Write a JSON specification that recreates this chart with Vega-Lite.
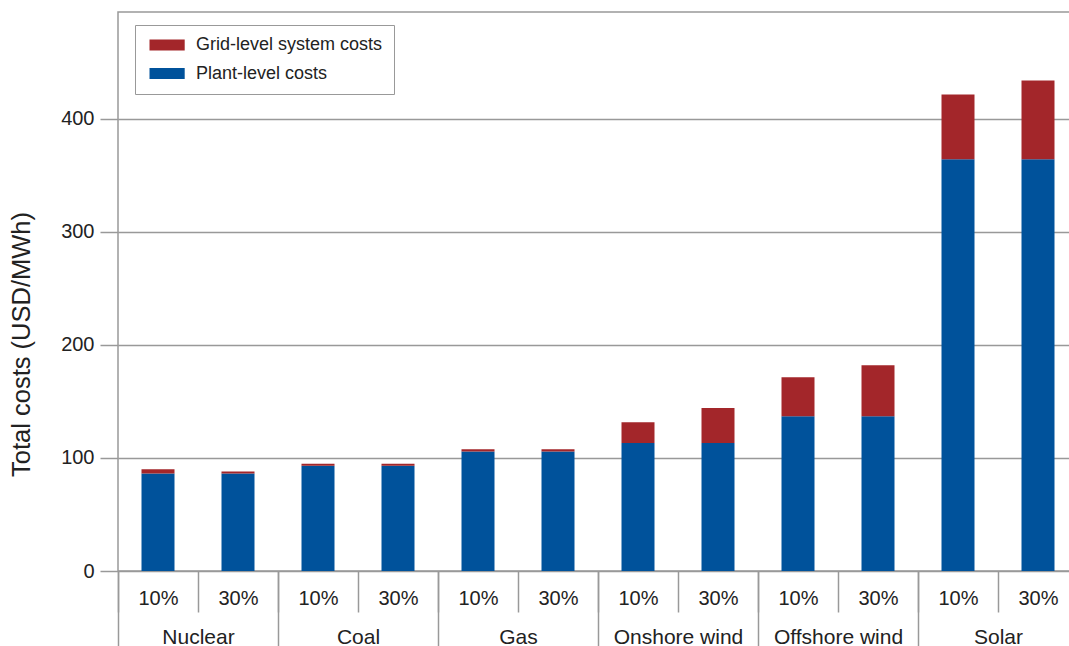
{
  "$schema": "https://vega.github.io/schema/vega-lite/v6.json",
  "autosize": "none",
  "width": 960,
  "height": 559,
  "padding": {"left": 118, "top": 12, "right": 0, "bottom": 75},
  "background": "white",
  "config": {
    "font": "Liberation Sans",
    "view": {"stroke": "#999999", "strokeWidth": 1.5}
  },
  "data": {
    "values": [
      {"tech": "Nuclear", "key": "Nuclear|10%", "cost": "Plant-level costs", "value": 86.2},
      {"tech": "Nuclear", "key": "Nuclear|10%", "cost": "Grid-level system costs", "value": 3.8},
      {"tech": "Nuclear", "key": "Nuclear|30%", "cost": "Plant-level costs", "value": 86.2},
      {"tech": "Nuclear", "key": "Nuclear|30%", "cost": "Grid-level system costs", "value": 1.8},
      {"tech": "Coal", "key": "Coal|10%", "cost": "Plant-level costs", "value": 93.0},
      {"tech": "Coal", "key": "Coal|10%", "cost": "Grid-level system costs", "value": 1.9},
      {"tech": "Coal", "key": "Coal|30%", "cost": "Plant-level costs", "value": 93.0},
      {"tech": "Coal", "key": "Coal|30%", "cost": "Grid-level system costs", "value": 1.9},
      {"tech": "Gas", "key": "Gas|10%", "cost": "Plant-level costs", "value": 105.8},
      {"tech": "Gas", "key": "Gas|10%", "cost": "Grid-level system costs", "value": 1.8},
      {"tech": "Gas", "key": "Gas|30%", "cost": "Plant-level costs", "value": 105.8},
      {"tech": "Gas", "key": "Gas|30%", "cost": "Grid-level system costs", "value": 1.8},
      {"tech": "Onshore wind", "key": "Onshore wind|10%", "cost": "Plant-level costs", "value": 113.3},
      {"tech": "Onshore wind", "key": "Onshore wind|10%", "cost": "Grid-level system costs", "value": 18.3},
      {"tech": "Onshore wind", "key": "Onshore wind|30%", "cost": "Plant-level costs", "value": 113.3},
      {"tech": "Onshore wind", "key": "Onshore wind|30%", "cost": "Grid-level system costs", "value": 30.9},
      {"tech": "Offshore wind", "key": "Offshore wind|10%", "cost": "Plant-level costs", "value": 136.9},
      {"tech": "Offshore wind", "key": "Offshore wind|10%", "cost": "Grid-level system costs", "value": 34.5},
      {"tech": "Offshore wind", "key": "Offshore wind|30%", "cost": "Plant-level costs", "value": 136.9},
      {"tech": "Offshore wind", "key": "Offshore wind|30%", "cost": "Grid-level system costs", "value": 45.1},
      {"tech": "Solar", "key": "Solar|10%", "cost": "Plant-level costs", "value": 364.3},
      {"tech": "Solar", "key": "Solar|10%", "cost": "Grid-level system costs", "value": 57.3},
      {"tech": "Solar", "key": "Solar|30%", "cost": "Plant-level costs", "value": 364.3},
      {"tech": "Solar", "key": "Solar|30%", "cost": "Grid-level system costs", "value": 69.7}
    ]
  },
  "layer": [
    {
      "mark": {"type": "bar", "width": {"band": 0.4125}},
      "encoding": {
        "x": {
          "field": "key",
          "type": "nominal",
          "sort": null,
          "scale": {"paddingInner": 0, "paddingOuter": 0},
          "axis": {
            "orient": "bottom",
            "title": null,
            "domain": false,
            "labelExpr": "split(datum.label, '|')[1]",
            "labelAngle": 0,
            "labelFontSize": 20,
            "labelColor": "#222222",
            "labelPadding": -24,
            "tickBand": "extent",
            "tickSize": 41,
            "tickColor": "#999999",
            "tickWidth": 1.5
          }
        },
        "y": {
          "field": "value",
          "type": "quantitative",
          "stack": "zero",
          "scale": {"domain": [0, 494.5], "nice": false, "zero": true},
          "axis": {
            "values": [0, 100, 200, 300, 400],
            "domain": false,
            "grid": true,
            "gridColor": "#999999",
            "gridWidth": 1.5,
            "gridOpacity": 1,
            "tickSize": 18,
            "tickColor": "#999999",
            "tickWidth": 1.5,
            "labelFontSize": 20,
            "labelColor": "#222222",
            "labelPadding": 6,
            "title": "Total costs (USD/MWh)",
            "titleFontSize": 25.5,
            "titleFontWeight": "normal",
            "titleColor": "#222222",
            "titleX": -84,
            "titleY": 332
          }
        },
        "color": {
          "field": "cost",
          "type": "nominal",
          "scale": {
            "domain": ["Grid-level system costs", "Plant-level costs"],
            "range": ["#A3262A", "#00529B"]
          },
          "legend": {
            "orient": "none",
            "legendX": 17,
            "legendY": 13,
            "direction": "vertical",
            "title": null,
            "strokeColor": "#999999",
            "fillColor": "white",
            "padding": 11,
            "labelFontSize": 18,
            "labelColor": "#222222",
            "labelLimit": 400,
            "symbolType": "M-1,-1H5.4V1H-1Z",
            "symbolSize": 121,
            "symbolStrokeWidth": 0,
            "symbolOpacity": 1,
            "labelOffset": 32,
            "rowPadding": 10.5
          }
        },
        "order": {"field": "cost", "sort": "descending"}
      }
    },
    {
      "mark": {"type": "bar", "opacity": 0},
      "encoding": {
        "x": {
          "field": "tech",
          "type": "nominal",
          "sort": null,
          "scale": {"paddingInner": 0, "paddingOuter": 0},
          "axis": {
            "orient": "bottom",
            "title": null,
            "domain": false,
            "labelAngle": 0,
            "labelFontSize": 21,
            "labelColor": "#222222",
            "labelPadding": -25,
            "tickBand": "extent",
            "tickSize": 80,
            "tickColor": "#999999",
            "tickWidth": 1.5
          }
        }
      }
    }
  ],
  "resolve": {"scale": {"x": "independent"}, "axis": {"x": "independent"}}
}
